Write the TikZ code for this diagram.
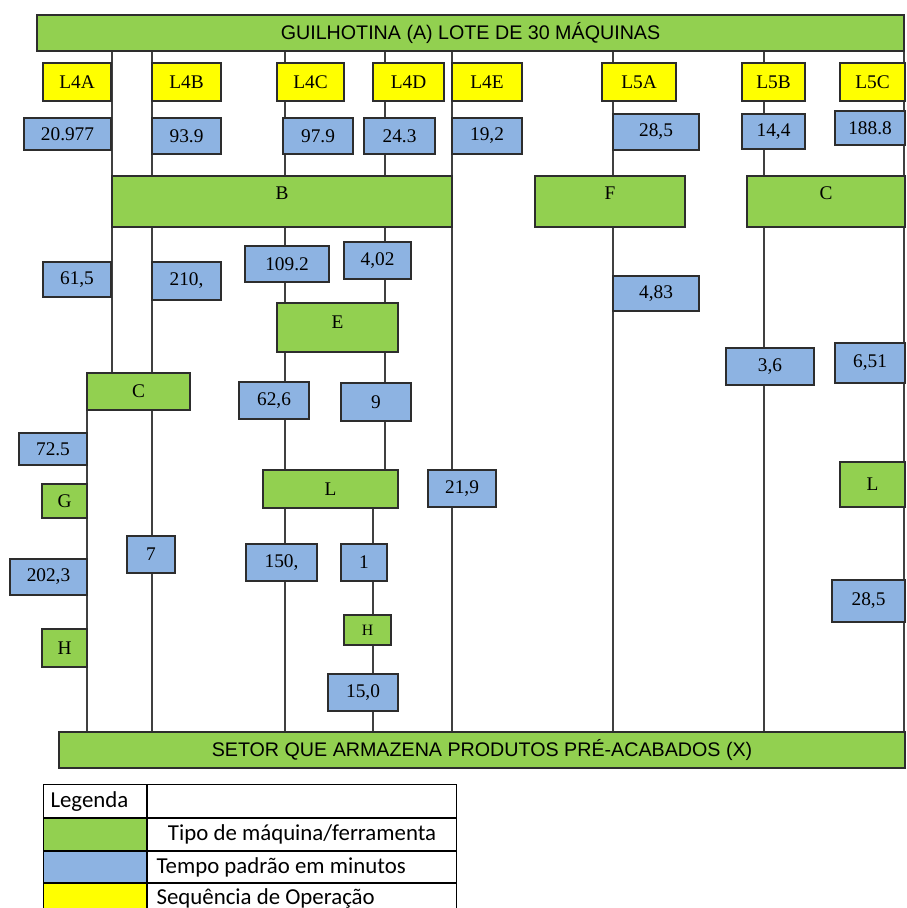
\documentclass[tikz,border=0pt]{standalone}
\usepackage{fontspec}
\setmainfont{Liberation Serif}
\setsansfont{Liberation Sans}
\newfontfamily\legendfont{Carlito}
\definecolor{machine}{RGB}{146, 208, 80}
\definecolor{stdtime}{RGB}{141, 179, 226}
\definecolor{opseq}{RGB}{255, 255, 0}
\definecolor{edge}{RGB}{45, 45, 45}
\usetikzlibrary{positioning, calc, backgrounds}

\begin{document}
\begin{tikzpicture}[
        x=0.02cm, y=-0.02cm,
        sz/.style 2 args={minimum width=#1*0.02cm, minimum height=#2*0.02cm},
        cell/.style={draw=edge, line width=0.6pt, inner sep=0pt,
                     font=\fontsize{11}{13}\selectfont},
        mach/.style={cell, fill=machine},
        tmin/.style={cell, fill=stdtime},
        seq/.style={cell, fill=opseq},
        bar/.style={mach, font=\sffamily\fontsize{11.2}{13}\selectfont},
        lift/.style={text depth=#1},
        flow/.style={draw=black!75, line width=0.6pt},
        leg/.style={draw=black, line width=0.6pt, inner sep=0pt, anchor=north west,
                    font=\legendfont\fontsize{13}{15}\selectfont},
        legtxt/.style 2 args={text width=#1*0.02cm, inner xsep=#2*0.02cm, align=flush left}
    ]
        \useasboundingbox (0,0) rectangle (906,908);

        % Top and bottom bars
        \node[bar, sz={867}{36}] (guil) at (470.5,33) {GUILHOTINA (A) LOTE DE 30 MÁQUINAS};
        \node[bar, sz={846}{36}] (setor) at (482,750)
            {SETOR QUE ARMAZENA PRODUTOS PRÉ-ACABADOS (X)};

        % Operation sequence
        \node[seq, sz={68}{38}] (l4a) at (77,82) {L4A};
        \node[seq, sz={69}{38}] (l4b) at (186.5,82) {L4B};
        \node[seq, sz={67}{38}] (l4c) at (310.5,82) {L4C};
        \node[seq, sz={71}{38}] (l4d) at (408.5,82) {L4D};
        \node[seq, sz={70}{38}] (l4e) at (487,82) {L4E};
        \node[seq, sz={74}{38}] (l5a) at (639,82) {L5A};
        \node[seq, sz={63}{38}] (l5b) at (773.5,82) {L5B};
        \node[seq, sz={65}{38}] (l5c) at (872.5,82) {L5C};

        % First standard times
        \node[tmin, sz={87}{32}] (t4a) at (67.5,134) {20.977};
        \node[tmin, sz={69}{36}] (t4b) at (186.5,136) {93.9};
        \node[tmin, sz={70}{36}] (t4c) at (318,136) {97.9};
        \node[tmin, sz={71}{36}] (t4d) at (399.5,136) {24.3};
        \node[tmin, sz={70}{36}] (t4e) at (487,136) {19,2};
        \node[tmin, sz={86}{36}] (t5a) at (656,132) {28,5};
        \node[tmin, sz={63}{35}] (t5b) at (773.5,131.5) {14,4};
        \node[tmin, sz={70}{34}] (t5c) at (870,128) {188.8};

        % Machines B, F, C
        \node[mach, sz={340}{51}, lift=0.32cm] (mb) at (282,201.5) {B};
        \node[mach, sz={150}{51}, lift=0.32cm] (mf) at (610,201.5) {F};
        \node[mach, sz={158}{51}, lift=0.32cm] (mcr) at (826,201.5) {C};

        % Middle part
        \node[tmin, sz={68}{35}] (t4a2) at (77,279.5) {61,5};
        \node[tmin, sz={69}{38}] (t4b2) at (186.5,281) {210,};
        \node[tmin, sz={84}{36}] (t4c2) at (287,264) {109.2};
        \node[tmin, sz={67}{37}] (t4d2) at (377.5,260.5) {4,02};
        \node[tmin, sz={86}{35}] (t5a2) at (656,293.5) {4,83};
        \node[mach, sz={121}{49}, lift=0.2cm] (me) at (337.5,327.5) {E};
        \node[mach, sz={103}{37}] (mcl) at (138.5,391.5) {C};
        \node[tmin, sz={70}{37}] (t4c3) at (274,400.5) {62,6};
        \node[tmin, sz={70}{38}] (t4d3) at (376,402) {9};
        \node[tmin, sz={88}{37}] (t5b2) at (770,366.5) {3,6};
        \node[tmin, sz={70}{40}] (t5c2) at (870,363) {6,51};
        \node[tmin, sz={68}{32}] (t4a3) at (53,449) {72.5};
        \node[mach, sz={135}{38}] (ml) at (330.5,489) {L};
        \node[tmin, sz={68}{37}] (t4e2) at (462,488.5) {21,9};
        \node[mach, sz={65}{45}] (mlr) at (872.5,484.5) {L};

        % Lower part
        \node[mach, sz={45}{34}] (mg) at (64.5,501) {G};
        \node[tmin, sz={48}{37}] (t4b3) at (151,554.5) {7};
        \node[tmin, sz={77}{36}] (t4a4) at (48.5,577) {202,3};
        \node[tmin, sz={71}{37}] (t4c4) at (281.5,562.5) {150,};
        \node[tmin, sz={46}{37}] (t4d4) at (364,562.5) {1};
        \node[tmin, sz={73}{42}] (t5c3) at (868.5,601) {28,5};
        \node[mach, sz={45}{38}] (mha) at (64.5,648) {H};
        \node[mach, sz={47}{30}, font=\fontsize{9}{11}\selectfont] (mhd) at (367.5,630) {H};
        \node[tmin, sz={70}{37}] (t4d5) at (363,692.5) {15,0};

        % Line positions
        \coordinate (ca) at (112,0);
        \coordinate (cb) at (152,0);
        \coordinate (cg) at (87,0);
        \coordinate (cc) at (285,0);
        \coordinate (cd) at (385,0);
        \coordinate (cdd) at (373,0);
        \coordinate (ce) at (452,0);
        \coordinate (c5a) at (613,0);
        \coordinate (c5b) at (764,0);
        \coordinate (c5c) at (904,0);

        % Flow lines behind the boxes
        \begin{scope}[on background layer]
            \foreach \c/\a/\b in {ca/guil/mb, ca/mb/mcl, cb/guil/mb, cb/mb/mcl, cb/mcl/setor,
                                  cg/mcl/setor, cc/guil/mb, cc/mb/me, cc/me/ml, cc/ml/setor,
                                  cd/guil/mb, cd/mb/me, cd/me/ml, cdd/ml/setor, ce/guil/setor,
                                  c5a/guil/mf, c5a/mf/setor, c5b/guil/mcr, c5b/mcr/setor,
                                  c5c/guil/setor}
                \draw[flow] (\a.south -| \c) -- (\b.north -| \c);
        \end{scope}

        % Legend
        \node[leg, sz={103}{33}, legtxt={89}{7}] (lg0) at (43,784) {Legenda};
        \node[leg, sz={309}{33}] (lg0t) at (lg0.north east) {};
        \node[leg, sz={103}{32}, fill=machine] (lg1) at (lg0.south west) {};
        \node[leg, sz={309}{32}] (lg1t) at (lg1.north east) {Tipo de máquina/ferramenta};
        \node[leg, sz={103}{31}, fill=stdtime] (lg2) at (lg1.south west) {};
        \node[leg, sz={309}{31}, legtxt={291}{9}] (lg2t) at (lg2.north east)
            {Tempo padrão em minutos};
        \node[leg, sz={103}{29}, fill=opseq] (lg3) at (lg2.south west) {};
        \node[leg, sz={309}{29}, legtxt={291}{9}] (lg3t) at (lg3.north east)
            {Sequência de Operação};
    \end{tikzpicture}
\end{document}
